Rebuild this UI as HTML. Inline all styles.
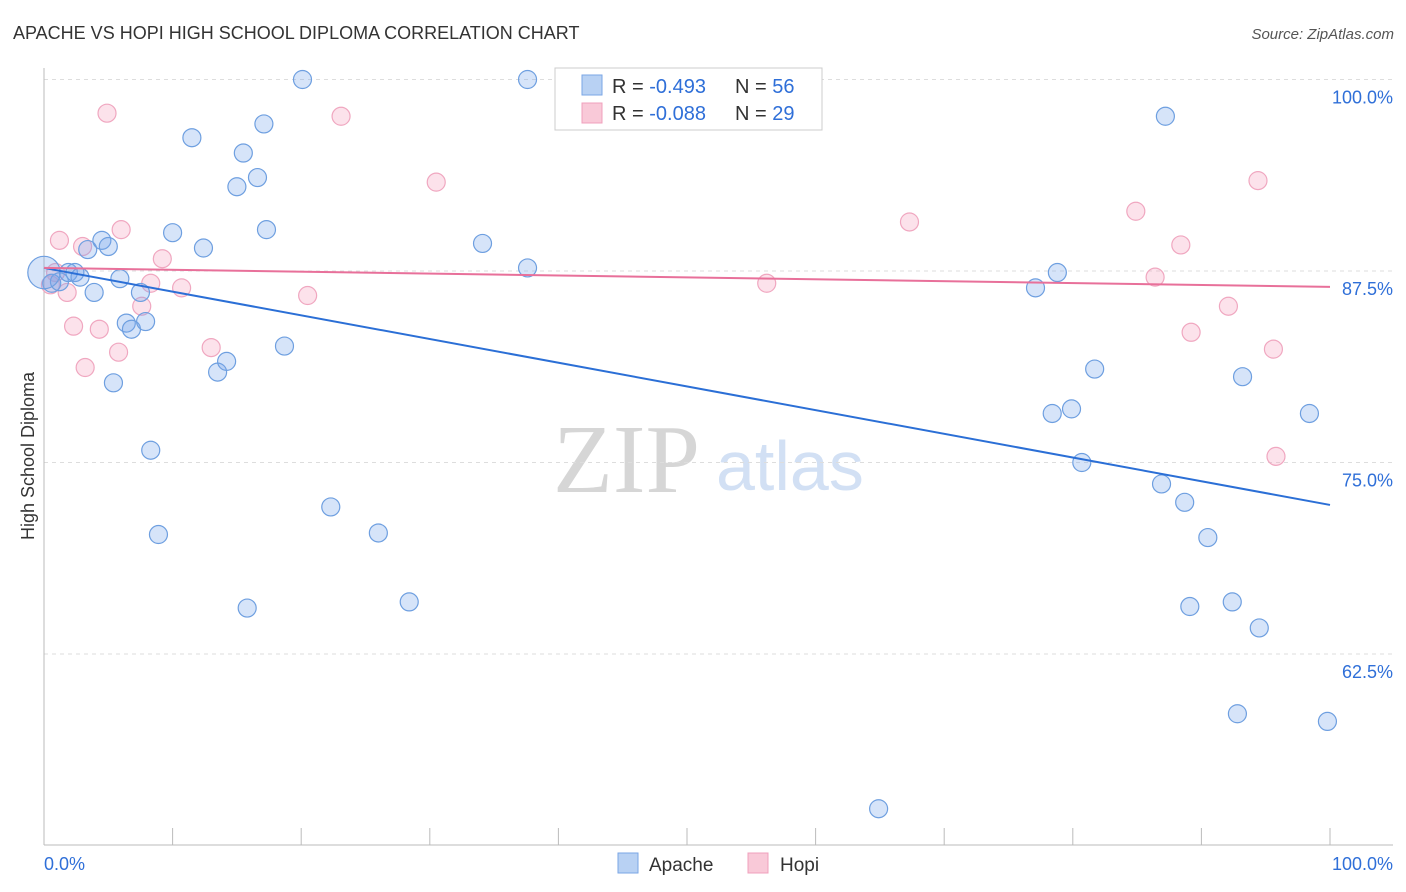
<!DOCTYPE html>
<html><head><meta charset="utf-8"><style>
body{margin:0;background:#fff;font-family:"Liberation Sans",sans-serif;}
svg{display:block}
</style></head><body>
<svg id="chart" width="1406" height="892">
<text x="13" y="39" font-size="18" fill="#333">APACHE VS HOPI HIGH SCHOOL DIPLOMA CORRELATION CHART</text>
<text x="1394" y="39" font-size="15" fill="#555" font-style="italic" text-anchor="end">Source: ZipAtlas.com</text>
<g>
<text x="553" y="492" font-size="98" fill="#d6d6d6" font-family="Liberation Serif,serif">ZIP</text>
<text x="716" y="490" font-size="70" fill="#d2e0f4">atlas</text>
</g>
<g id="grid"></g>
<g id="axes"></g>
<text transform="translate(34,456) rotate(-90)" font-size="18" fill="#333" text-anchor="middle">High School Diploma</text>
<g id="marks"></g>
<g>
<rect x="555" y="68" width="267" height="62" fill="#fff" stroke="#ccc"/>
<rect x="582" y="75" width="20" height="20" fill="#b8d1f3" stroke="#7aa6e6"/>
<rect x="582" y="103" width="20" height="20" fill="#f9c9d8" stroke="#f0a0bc"/>
<text x="612" y="93" font-size="20" fill="#333">R = <tspan fill="#2f6fd8">-0.493</tspan></text>
<text x="735" y="93" font-size="20" fill="#333">N = <tspan fill="#2f6fd8">56</tspan></text>
<text x="612" y="120" font-size="20" fill="#333">R = <tspan fill="#2f6fd8">-0.088</tspan></text>
<text x="735" y="120" font-size="20" fill="#333">N = <tspan fill="#2f6fd8">29</tspan></text>
</g>
<g>
<rect x="618" y="853" width="20" height="20" fill="#b8d1f3" stroke="#7aa6e6"/>
<text x="649" y="871" font-size="19" fill="#333">Apache</text>
<rect x="748" y="853" width="20" height="20" fill="#f9c9d8" stroke="#f0a0bc"/>
<text x="780" y="871" font-size="19" fill="#333">Hopi</text>
</g>
</svg>
<script>
const apacheX=[0.6,1.2,1.9,2.4,2.8,3.4,3.9,4.5,5.0,5.4,5.9,6.4,6.8,7.5,7.9,8.3,8.9,10.0,11.5,12.4,13.5,14.2,15.0,15.5,15.8,16.6,17.1,17.3,18.7,20.1,22.3,26.0,28.4,34.1,37.6,37.6,64.9,77.1,78.4,78.8,79.9,80.7,81.7,86.9,87.2,88.7,89.1,90.5,92.4,92.8,93.2,94.5,98.4,99.8,0];
const apacheY=[86.7,86.8,87.4,87.4,87.1,88.9,86.1,89.5,89.1,80.2,87.0,84.1,83.7,86.1,84.2,75.8,70.3,90.0,96.2,89.0,80.9,81.6,93.0,95.2,65.5,93.6,97.1,90.2,82.6,100.0,72.1,70.4,65.9,89.3,100.0,87.7,52.4,86.4,78.2,87.4,78.5,75.0,81.1,73.6,97.6,72.4,65.6,70.1,65.9,58.6,80.6,64.2,78.2,58.1,87.4];
const apacheSize=[1,1,1,1,1,1,1,1,1,1,1,1,1,1,1,1,1,1,1,1,1,1,1,1,1,1,1,1,1,1,1,1,1,1,1,1,1,1,1,1,1,1,1,1,1,1,1,1,1,1,1,1,1,1,1.8];
const hopiX=[0.5,0.9,1.2,1.8,2.3,3.0,3.2,4.3,4.9,5.8,6.0,7.6,8.3,9.2,10.7,13.0,20.5,23.1,30.5,56.2,67.3,84.9,86.4,88.4,89.2,92.1,94.4,95.6,95.8];
const hopiY=[86.6,87.4,89.5,86.1,83.9,89.1,81.2,83.7,97.8,82.2,90.2,85.2,86.7,88.3,86.4,82.5,85.9,97.6,93.3,86.7,90.7,91.4,87.1,89.2,83.5,85.2,93.4,82.4,75.4];
const apacheTrend=[87.70,72.23];
const hopiTrend=[87.70,86.46];
const yTicks=[100,87.5,75,62.5];
const yTickLabels=["100.0%","87.5%","75.0%","62.5%"];
const xTickCount=10;

const NS="http://www.w3.org/2000/svg";
const sx=v=>44+v*12.86;
const sy=v=>79.5+(100-v)*15.32;
function mk(tag,attrs,parent){const e=document.createElementNS(NS,tag);for(const k in attrs)e.setAttribute(k,attrs[k]);parent.appendChild(e);return e;}
const grid=document.getElementById('grid'),axes=document.getElementById('axes'),marks=document.getElementById('marks');
yTicks.forEach((t,i)=>{
 const l=mk('line',{x1:44,x2:1393,y1:sy(t),y2:sy(t),stroke:'#ddd','stroke-dasharray':'4,4'},grid);
 
 
 const tx=mk('text',{x:1393,y:sy(t)+24,'font-size':18,fill:'#2f6fd8','text-anchor':'end'},grid);
 tx.textContent=yTickLabels[i];
 
 
});
mk('line',{x1:44,x2:44,y1:68,y2:845,stroke:'#bbb'},axes);
mk('line',{x1:44,x2:1393,y1:845,y2:845,stroke:'#bbb'},axes);
for(let i=0;i<=xTickCount;i++){
 const t=mk('line',{x1:sx(i*10),x2:sx(i*10),y1:828,y2:845,stroke:'#bbb'},axes);
 
 
}
const xl=mk('text',{x:44,y:870,'font-size':18,fill:'#2f6fd8'},axes);xl.textContent='0.0%';


const xr=mk('text',{x:1393,y:870,'font-size':18,fill:'#2f6fd8','text-anchor':'end'},axes);xr.textContent='100.0%';


hopiX.forEach((x,i)=>{
 const c=mk('circle',{cx:sx(x),cy:sy(hopiY[i]),r:9,fill:'rgba(244,160,190,0.3)',stroke:'#f0a7c0','stroke-width':1.2},marks);
 
 
});
apacheX.forEach((x,i)=>{
 const c=mk('circle',{cx:sx(x),cy:sy(apacheY[i]),r:9*apacheSize[i],fill:'rgba(120,165,235,0.3)',stroke:'#6e9fe0','stroke-width':1.2},marks);
 
 
});
const tb=mk('line',{x1:sx(0),y1:sy(apacheTrend[0]),x2:sx(100),y2:sy(apacheTrend[1]),stroke:'#2b6fd6','stroke-width':2},marks);


const tp=mk('line',{x1:sx(0),y1:sy(hopiTrend[0]),x2:sx(100),y2:sy(hopiTrend[1]),stroke:'#e8709a','stroke-width':2},marks);


</script>
</body></html>
